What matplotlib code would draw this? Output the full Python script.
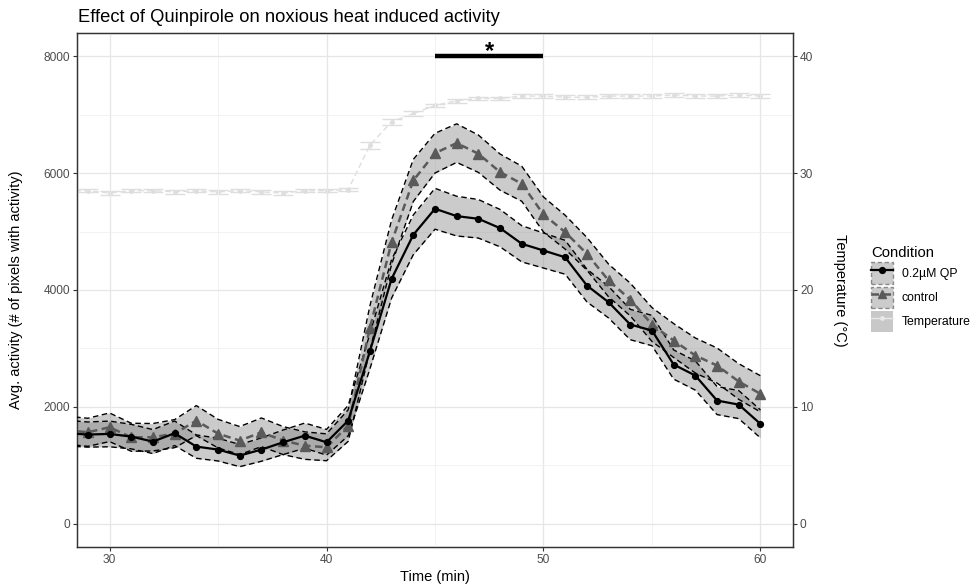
import matplotlib
matplotlib.use('Agg')
import matplotlib.pyplot as plt
import numpy as np
from matplotlib.patches import Patch
from matplotlib.lines import Line2D
from matplotlib.legend_handler import HandlerTuple
from matplotlib.ticker import MultipleLocator

plt.rcParams['font.family'] = ['Liberation Sans', 'DejaVu Sans']

# ---------------- data ----------------
time = list(range(28, 61))

qp_mean = [1550, 1525, 1536, 1490, 1405, 1547, 1319, 1268, 1165, 1268, 1393, 1507, 1393, 1764,
           2950, 4192, 4945, 5391, 5265, 5219, 5059, 4791, 4676, 4560, 4077, 3791, 3409, 3306,
           2724, 2535, 2107, 2038, 1707]
qp_se = [220, 215, 220, 210, 205, 210, 200, 195, 190, 200, 210, 215, 220, 260,
         300, 330, 340, 350, 340, 330, 320, 310, 300, 290, 280, 270, 260, 260,
         250, 250, 240, 240, 240]

ctrl_mean = [1600, 1564, 1650, 1479, 1479, 1541, 1764, 1541, 1422, 1564, 1422, 1336, 1307, 1679,
             3350, 4819, 5876, 6343, 6515, 6333, 6018, 5819, 5293, 4990, 4620, 4163, 3837, 3409,
             3135, 2878, 2707, 2433, 2222]
ctrl_se = [240, 240, 245, 240, 235, 240, 257, 245, 240, 245, 240, 235, 230, 270,
           380, 380, 360, 340, 330, 320, 310, 300, 300, 290, 280, 280, 280, 290,
           290, 300, 300, 305, 310]

temp_mean = [28.5, 28.5, 28.3, 28.5, 28.5, 28.4, 28.5, 28.4, 28.5, 28.4, 28.3, 28.5, 28.5, 28.6,
             32.4, 34.4, 35.1, 35.8, 36.2, 36.4, 36.4, 36.6, 36.6, 36.5, 36.5, 36.6, 36.6, 36.6,
             36.7, 36.6, 36.6, 36.7, 36.6]
temp_se = [0.15, 0.15, 0.2, 0.15, 0.15, 0.15, 0.15, 0.15, 0.15, 0.15, 0.2, 0.15, 0.15, 0.15,
           0.3, 0.25, 0.2, 0.15, 0.15, 0.15, 0.15, 0.15, 0.15, 0.15, 0.15, 0.15, 0.15, 0.15,
           0.15, 0.15, 0.15, 0.15, 0.15]

sig_start, sig_end, sig_level = 45, 50, 8000

x_ticks = [30, 40, 50, 60]
y_ticks = [0, 2000, 4000, 6000, 8000]
temp_ticks = [0, 10, 20, 30, 40]
labels = ['0.2\u00b5M QP', 'control', 'Temperature']

# ---------------- figure ----------------
fig = plt.figure(figsize=(9.79, 5.87), dpi=100)
ax = fig.add_axes([77 / 979, 1 - 547 / 587, (793 - 77) / 979, (547 - 33) / 587])
ax2 = ax.twinx()
ax.set_zorder(2)
ax2.set_zorder(1)
ax.patch.set_visible(False)

t = np.array(time)
rib_fill = '#7f7f7f'
edge_kw = dict(color='black', lw=1.0, dashes=(4, 2.5))

# temperature (right axis)
temp_col = '#dedede'
ax2.plot(t, temp_mean, color=temp_col, lw=1.0, dashes=(4, 2.5), zorder=2)
ax2.errorbar(t, temp_mean, yerr=temp_se, fmt='o', ms=2.5, color=temp_col, ecolor=temp_col,
             elinewidth=1.0, capsize=7, capthick=1.0, zorder=3)

# ribbons
for m, s in [(qp_mean, qp_se), (ctrl_mean, ctrl_se)]:
    m = np.array(m); s = np.array(s)
    ax.fill_between(t, m - s, m + s, color=rib_fill, alpha=0.4, lw=0, zorder=2)
    ax.plot(t, m - s, zorder=3, **edge_kw)
    ax.plot(t, m + s, zorder=3, **edge_kw)

# lines
ax.plot(t, ctrl_mean, color='#5a5a5a', lw=1.8, dashes=(3, 1.8), marker='^', ms=6.5,
        mfc='#5a5a5a', mec='#5a5a5a', zorder=4)
ax.plot(t, qp_mean, color='black', lw=1.6, marker='o', ms=4.2, zorder=5)

# significance bar
ax.plot([sig_start, sig_end], [sig_level, sig_level], color='black', lw=3.2,
        solid_capstyle='butt', zorder=6)
ax.text((sig_start + sig_end) / 2, sig_level - 110, '*', ha='center', va='bottom',
        fontsize=17, fontweight='bold', zorder=6)

# axes styling
ax.set_xlim(28.5, 61.5)
ax.set_ylim(-400, 8400)
ax2.set_ylim(-2, 42)
ax.set_xticks(x_ticks)
ax.set_yticks(y_ticks)
ax2.set_yticks(temp_ticks)
ax.xaxis.set_minor_locator(MultipleLocator(5))
ax.yaxis.set_minor_locator(MultipleLocator(1000))
ax.grid(which='major', color='#e6e6e6', lw=0.9, zorder=0)
ax.grid(which='minor', color='#f0f0f0', lw=0.6, zorder=0)
ax.set_axisbelow(True)
for a in (ax, ax2):
    a.tick_params(which='major', length=3, width=0.8, color='#333333', labelcolor='#4d4d4d',
                  labelsize=8.6, pad=2)
    a.tick_params(which='minor', length=0)
    for sp in a.spines.values():
        sp.set_color('#333333')
        sp.set_linewidth(0.9)

ax.set_xlabel('Time (min)', fontsize=10.5, labelpad=3)
ax.set_ylabel('Avg. activity (# of pixels with activity)', fontsize=10.5, labelpad=15)
ax2.set_ylabel('Temperature (\u00b0C)', fontsize=10.5, rotation=-90, labelpad=24)

fig.text(78 / 979, 1 - 18 / 587, 'Effect of Quinpirole on noxious heat induced activity',
         fontsize=13.2, ha='left', va='center')

# legend
h_qp = (Patch(facecolor=rib_fill, alpha=0.4, edgecolor='black', linestyle=(0, (3, 2)), lw=1.0),
        Line2D([], [], color='black', lw=1.6, marker='o', ms=4.2))
h_ct = (Patch(facecolor=rib_fill, alpha=0.4, edgecolor='black', linestyle=(0, (3, 2)), lw=1.0),
        Line2D([], [], color='#5a5a5a', lw=1.8, dashes=(3, 1.8), marker='^', ms=6))
h_tp = (Patch(facecolor='#c8c8c8', edgecolor='none'),
        Line2D([], [], color='#e8e8e8', lw=1.0, marker='o', ms=2.5))
leg = fig.legend([h_qp, h_ct, h_tp], labels,
                 handler_map={tuple: HandlerTuple(ndivide=1, pad=0)},
                 loc='upper left', bbox_to_anchor=(871 / 979, 1 - 246 / 587), frameon=False,
                 fontsize=8.8, title='Condition', title_fontsize=10.7, handlelength=1.8,
                 handleheight=2.35, labelspacing=0.2, handletextpad=0.7, borderpad=0,
                 borderaxespad=0)
leg._legend_box.align = 'left'

fig.savefig('out.png', dpi=100)
